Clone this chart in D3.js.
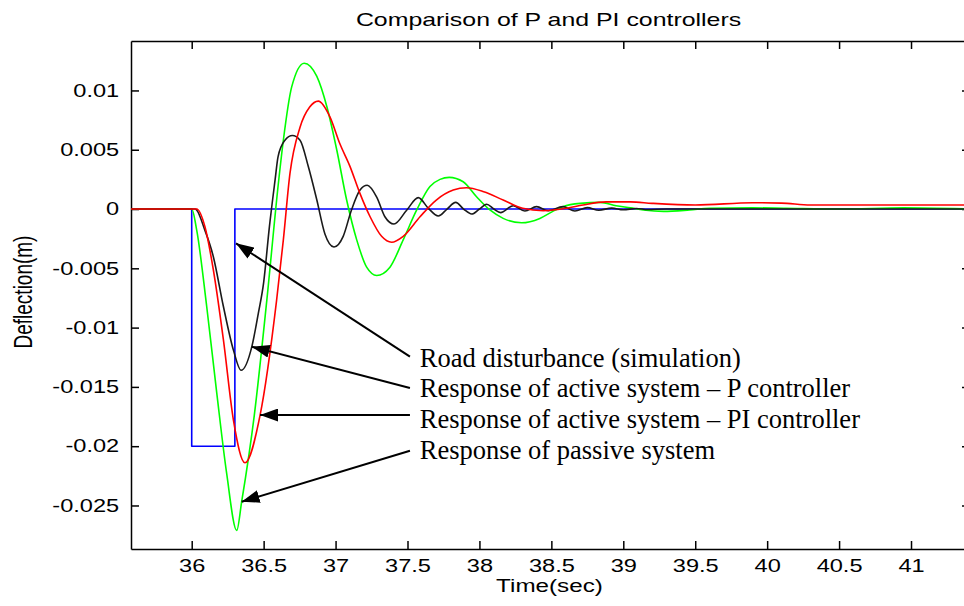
<!DOCTYPE html>
<html>
<head>
<meta charset="utf-8">
<script src="https://cdn.jsdelivr.net/npm/d3@7"></script>
<style>
  html, body { margin: 0; padding: 0; background: #ffffff; }
  svg { display: block; }
</style>
</head>
<body>
<svg id="chart" width="964" height="606"></svg>
<script>
// ---------------- DATA ----------------
const chartTitle = "Comparison of P and PI controllers";
const xLabel = "Time(sec)";
const yLabel = "Deflection(m)";

const xTicks = [36, 36.5, 37, 37.5, 38, 38.5, 39, 39.5, 40, 40.5, 41];
const xTickLabels = ["36", "36.5", "37", "37.5", "38", "38.5", "39", "39.5", "40", "40.5", "41"];
const yTicks = [0.01, 0.005, 0, -0.005, -0.01, -0.015, -0.02, -0.025];
const yTickLabels = ["0.01", "0.005", "0", "-0.005", "-0.01", "-0.015", "-0.02", "-0.025"];

const xDomain = [35.578, 41.41];
const yDomain = [-0.02867, 0.01417];

// Road disturbance (blue)
const roadTime  = [35.578, 36.0, 36.0, 36.3, 36.3, 41.41];
const roadValue = [0, 0, -0.02, -0.02, 0, 0];

// Passive system (green)
const passiveTime  = [35.578, 36.0, 36.035, 36.104, 36.174, 36.243, 36.313, 36.347, 36.435, 36.522, 36.605, 36.637, 36.695, 36.782, 36.869, 36.94, 37.008, 37.077, 37.147, 37.216, 37.286, 37.378, 37.47, 37.564, 37.656, 37.726, 37.79, 37.887, 37.98, 38.073, 38.165, 38.293, 38.42, 38.51, 38.58, 38.70, 38.84, 38.95, 39.05, 39.14, 39.28, 39.46, 39.6, 39.9, 40.13, 40.5, 40.95, 41.41];
const passiveValue = [0, 0, -0.0018, -0.0082, -0.0155, -0.0223, -0.0271, -0.0247, -0.0174, -0.0077, 0.00245, 0.0058, 0.0103, 0.0123, 0.0112, 0.0086, 0.005, 0.00076, -0.0026, -0.0049, -0.0056, -0.0049, -0.0026, -0.00008, 0.0019, 0.0025, 0.00267, 0.0023, 0.00104, -0.00008, -0.00079, -0.00116, -0.00079, -0.0002, 0.0002, 0.00048, 0.00056, 0.00028, 0.0001, -0.00008, -0.0002, -0.00008, 0.00006, 0.0001, 0.00006, 0, 0.0001, 0];

// Active system, P controller (black)
const pTime  = [35.578, 36.023, 36.092, 36.15, 36.22, 36.29, 36.343, 36.418, 36.463, 36.50, 36.54, 36.58, 36.60, 36.648, 36.70, 36.753, 36.81, 36.869, 36.926, 36.989, 37.053, 37.11, 37.17, 37.22, 37.286, 37.343, 37.406, 37.494, 37.575, 37.645, 37.714, 37.775, 37.835, 37.89, 37.946, 38.0, 38.05, 38.1, 38.147, 38.235, 38.316, 38.397, 38.478, 38.58, 38.664, 38.75, 38.83, 38.92, 39.0, 39.09, 39.17, 39.3, 41.41];
const pValue = [0, 0, -0.0018, -0.004, -0.0082, -0.0119, -0.0136, -0.0116, -0.0088, -0.0062, -0.0015, 0.0025, 0.0044, 0.0058, 0.0062, 0.0058, 0.0036, 0.0008, -0.0021, -0.0032, -0.0023, -0.0001, 0.0016, 0.002, 0.001, -0.00065, -0.00126, -0.0001, 0.00096, 0.00006, -0.00059, 0, 0.00056, 0, -0.00042, 0, 0.0004, 0, -0.0003, 0.00028, -0.00017, 0.0002, -0.00014, 0.0002, -0.00017, 0.00012, -0.0001, 0.00008, -0.00006, 0.00005, -0.00004, 0, 0];

// Active system, PI controller (red)
const piTime  = [35.578, 36.035, 36.092, 36.15, 36.22, 36.29, 36.37, 36.475, 36.59, 36.637, 36.683, 36.753, 36.82, 36.88, 36.96, 37.03, 37.1, 37.17, 37.24, 37.32, 37.39, 37.47, 37.587, 37.70, 37.818, 37.91, 38.03, 38.165, 38.30, 38.443, 38.606, 38.72, 38.88, 39.05, 39.2, 39.5, 39.9, 40.1, 40.3, 41.41];
const piValue = [0, 0, -0.0015, -0.0051, -0.011, -0.0178, -0.0214, -0.0174, -0.0077, -0.0026, 0.003, 0.0069, 0.0086, 0.0091, 0.0078, 0.0055, 0.0036, 0.0013, -0.00065, -0.0023, -0.0028, -0.0023, -0.00065, 0.00076, 0.0016, 0.0018, 0.00146, 0.00076, 0.00006, -0.00014, 0.00006, 0.00034, 0.0006, 0.0006, 0.00048, 0.00034, 0.00053, 0.0005, 0.00034, 0.00034];

// Annotations: label, arrow tip (time, value), arrow tail value, text baseline value
const annLabels    = ["Road disturbance (simulation)", "Response of active system \u2013 P controller", "Response of active system \u2013 PI controller", "Response of passive system"];
const annTipTime   = [36.308, 36.417, 36.475, 36.347];
const annTipValue  = [-0.00289, -0.01161, -0.01737, -0.02468];
const annTailValue = [-0.01245, -0.01509, -0.01737, -0.02038];
const annTextValue = [-0.01328, -0.01589, -0.01847, -0.02108];
const annTailTime = 37.517;
const annTextTime = 37.586;

// ---------------- DRAWING ----------------
const svg = d3.select("#chart");
const L = 131, R = 970, T = 41, B = 549;
const SX = 1.31; // horizontal stretch of the MATLAB-style text
const axisFont = "'Liberation Sans', Arial, Helvetica, sans-serif";

const x = d3.scaleLinear().domain(xDomain).range([L, R]);
const y = d3.scaleLinear().domain(yDomain).range([B, T]);

svg.append("rect").attr("x", 0).attr("y", 0).attr("width", 964).attr("height", 606).attr("fill", "#ffffff");

svg.append("defs").append("clipPath").attr("id", "plotclip")
  .append("rect").attr("x", L).attr("y", T).attr("width", R - L).attr("height", B - T);

function styleAxis(g) {
  g.select(".domain").attr("stroke", "#000").attr("stroke-width", 1.5);
  g.selectAll(".tick line").attr("stroke", "#000").attr("stroke-width", 1.5);
}

// bottom axis
const gx = svg.append("g").attr("transform", `translate(0,${B})`)
  .call(d3.axisBottom(x).tickValues(xTicks).tickFormat((d, i) => xTickLabels[i]).tickSizeInner(-8).tickSizeOuter(0).tickPadding(10));
styleAxis(gx);
gx.selectAll(".tick text").attr("font-family", axisFont).attr("font-size", 18).attr("fill", "#000")
  .attr("transform", `scale(${SX},1)`);

// left axis
const gy = svg.append("g").attr("transform", `translate(${L},0)`)
  .call(d3.axisLeft(y).tickValues(yTicks).tickFormat((d, i) => yTickLabels[i]).tickSizeInner(-8).tickSizeOuter(0).tickPadding(9));
styleAxis(gy);
gy.selectAll(".tick text").attr("font-family", axisFont).attr("font-size", 18).attr("fill", "#000")
  .attr("transform", `scale(${SX},1)`);

// top and right axes (ticks only)
const gt = svg.append("g").attr("transform", `translate(0,${T})`)
  .call(d3.axisTop(x).tickValues(xTicks).tickFormat("").tickSizeInner(-8).tickSizeOuter(0));
styleAxis(gt);
const gr = svg.append("g").attr("transform", `translate(${R},0)`)
  .call(d3.axisRight(y).tickValues(yTicks).tickFormat("").tickSizeInner(-8).tickSizeOuter(0));
styleAxis(gr);

// series
const plot = svg.append("g").attr("clip-path", "url(#plotclip)");
function draw(times, values, color, curve) {
  const pts = times.map((t, i) => [t, values[i]]);
  const line = d3.line().x(d => x(d[0])).y(d => y(d[1])).curve(curve);
  plot.append("path").datum(pts).attr("d", line)
    .attr("fill", "none").attr("stroke", color).attr("stroke-width", 1.6).attr("stroke-linejoin", "round");
}
draw(roadTime, roadValue, "#0000ff", d3.curveLinear);
draw(passiveTime, passiveValue, "#00ff00", d3.curveMonotoneX);
draw(pTime, pValue, "#1a1a1a", d3.curveMonotoneX);
draw(piTime, piValue, "#ff0000", d3.curveMonotoneX);

// title
svg.append("text")
  .attr("transform", `translate(${(L + R) / 2 - 2},26) scale(${SX},1)`)
  .attr("text-anchor", "middle").attr("font-family", axisFont).attr("font-size", 19).attr("fill", "#000")
  .text(chartTitle);

// x label
svg.append("text")
  .attr("transform", `translate(${(L + R) / 2 - 1},592) scale(${SX},1)`)
  .attr("text-anchor", "middle").attr("font-family", axisFont).attr("font-size", 18.5).attr("fill", "#000")
  .text(xLabel);

// y label
svg.append("text")
  .attr("transform", `translate(32,${(T + B) / 2 - 3}) scale(${SX},1) rotate(-90)`)
  .attr("text-anchor", "middle").attr("font-family", axisFont).attr("font-size", 19).attr("fill", "#000")
  .text(yLabel);

// arrow marker
svg.select("defs").append("marker")
  .attr("id", "arrowhead").attr("viewBox", "0 0 18 13")
  .attr("refX", 18).attr("refY", 6.5)
  .attr("markerWidth", 18).attr("markerHeight", 13)
  .attr("markerUnits", "userSpaceOnUse").attr("orient", "auto")
  .append("path").attr("d", "M0,0 L18,6.5 L0,13 Z").attr("fill", "#000");

// annotations
annLabels.forEach((lab, i) => {
  svg.append("line")
    .attr("x1", x(annTailTime)).attr("y1", y(annTailValue[i]))
    .attr("x2", x(annTipTime[i])).attr("y2", y(annTipValue[i]))
    .attr("stroke", "#000").attr("stroke-width", 2).attr("marker-end", "url(#arrowhead)");
  svg.append("text")
    .attr("x", x(annTextTime)).attr("y", y(annTextValue[i]))
    .attr("font-family", "'Liberation Serif', 'Times New Roman', serif").attr("font-size", 26.5).attr("fill", "#000")
    .text(lab);
});
</script>
</body>
</html>
